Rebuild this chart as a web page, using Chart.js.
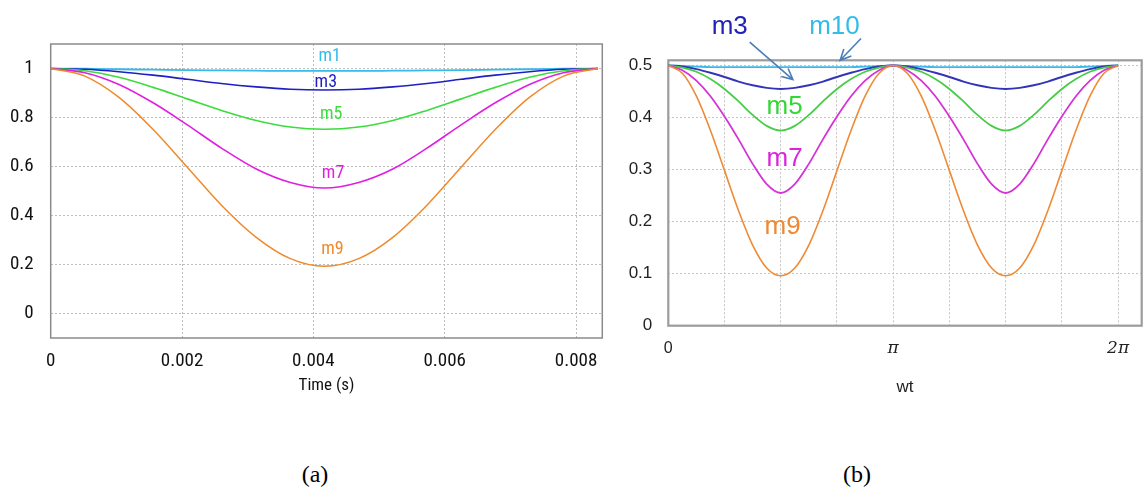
<!DOCTYPE html>
<html>
<head>
<meta charset="utf-8">
<script src="https://cdn.jsdelivr.net/npm/chart.js@4.4.1/dist/chart.umd.min.js"></script>
<style>
  html, body { margin: 0; padding: 0; background: #fff; }
  #page { position: relative; width: 1148px; height: 489px; overflow: hidden; background: #fff; }
  canvas { position: absolute; top: 0; }
  #chartA { left: 0; }
  #chartB { left: 615px; }
  .cap { position: absolute; top: 461px; font: 24px "Liberation Serif", "Times New Roman", serif; color: #000; transform: translateX(-50%); }
</style>
</head>
<body>
<div id="page">
  <canvas id="chartA" width="615" height="420"></canvas>
  <canvas id="chartB" width="533" height="420"></canvas>
  <div class="cap" style="left:315px">(a)</div>
  <div class="cap" style="left:857px">(b)</div>
</div>
<script>
// ---- data (a): normalised output vs time
var timeA = [0, 0.00052, 0.00104, 0.00156, 0.00208, 0.0026, 0.00313, 0.00365, 0.00417, 0.00469, 0.00521, 0.00573, 0.00625, 0.00677, 0.00729, 0.00781, 0.00833];
var m1A = [1, 0.999, 0.997, 0.995, 0.993, 0.992, 0.991, 0.99, 0.99, 0.99, 0.991, 0.992, 0.993, 0.995, 0.997, 0.999, 1];
var m3A = [1, 0.997, 0.987, 0.973, 0.956, 0.939, 0.925, 0.915, 0.912, 0.915, 0.925, 0.939, 0.956, 0.973, 0.987, 0.997, 1];
var m5A = [1, 0.991, 0.964, 0.923, 0.876, 0.829, 0.788, 0.761, 0.752, 0.761, 0.788, 0.829, 0.876, 0.923, 0.964, 0.991, 1];
var m7A = [1, 0.983, 0.935, 0.86, 0.77, 0.675, 0.59, 0.535, 0.512, 0.535, 0.59, 0.675, 0.77, 0.86, 0.935, 0.983, 1];
var m9A = [1, 0.969, 0.882, 0.751, 0.597, 0.442, 0.311, 0.224, 0.193, 0.224, 0.311, 0.442, 0.597, 0.751, 0.882, 0.969, 1];
var xTicksA = [0, 0.002, 0.004, 0.006, 0.008];
var xLabelsA = ['0', '0.002', '0.004', '0.006', '0.008'];
var yTicksA = [0, 0.2, 0.4, 0.6, 0.8, 1];
var yLabelsA = ['0', '0.2', '0.4', '0.6', '0.8', '1'];

// ---- data (b): output vs wt (wt given in units of pi)
var wtB = [0, 0.0625, 0.125, 0.1875, 0.25, 0.3125, 0.375, 0.4375, 0.5, 0.5625, 0.625, 0.6875, 0.75, 0.8125, 0.875, 0.9375, 1,
  1.0625, 1.125, 1.1875, 1.25, 1.3125, 1.375, 1.4375, 1.5, 1.5625, 1.625, 1.6875, 1.75, 1.8125, 1.875, 1.9375, 2];
var m10B = [0.5, 0.499, 0.498, 0.497, 0.497, 0.497, 0.497, 0.497, 0.497, 0.497, 0.497, 0.497, 0.497, 0.497, 0.498, 0.499, 0.5,
  0.499, 0.498, 0.497, 0.497, 0.497, 0.497, 0.497, 0.497, 0.497, 0.497, 0.497, 0.497, 0.497, 0.498, 0.499, 0.5];
var m3B = [0.5, 0.498, 0.493, 0.486, 0.478, 0.469, 0.462, 0.457, 0.455, 0.457, 0.462, 0.469, 0.478, 0.486, 0.493, 0.498, 0.5,
  0.498, 0.493, 0.486, 0.478, 0.469, 0.462, 0.457, 0.455, 0.457, 0.462, 0.469, 0.478, 0.486, 0.493, 0.498, 0.5];
var m5B = [0.5, 0.496, 0.488, 0.474, 0.455, 0.431, 0.405, 0.384, 0.375, 0.384, 0.405, 0.431, 0.455, 0.474, 0.488, 0.496, 0.5,
  0.496, 0.488, 0.474, 0.455, 0.431, 0.405, 0.384, 0.375, 0.384, 0.405, 0.431, 0.455, 0.474, 0.488, 0.496, 0.5];
var m7B = [0.5, 0.491, 0.471, 0.441, 0.402, 0.358, 0.311, 0.272, 0.255, 0.272, 0.311, 0.358, 0.402, 0.441, 0.471, 0.491, 0.5,
  0.491, 0.471, 0.441, 0.402, 0.358, 0.311, 0.272, 0.255, 0.272, 0.311, 0.358, 0.402, 0.441, 0.471, 0.491, 0.5];
var m9B = [0.5, 0.485, 0.441, 0.375, 0.298, 0.221, 0.155, 0.111, 0.096, 0.111, 0.155, 0.221, 0.298, 0.375, 0.441, 0.485, 0.5,
  0.485, 0.441, 0.375, 0.298, 0.221, 0.155, 0.111, 0.096, 0.111, 0.155, 0.221, 0.298, 0.375, 0.441, 0.485, 0.5];
var xTicksB = [0, 0.25, 0.5, 0.75, 1, 1.25, 1.5, 1.75, 2];
var xLabelsB = ['0', '', '', '', 'π', '', '', '', '2π'];
var yTicksB = [0, 0.1, 0.2, 0.3, 0.4, 0.5];
var yLabelsB = ['0', '0.1', '0.2', '0.3', '0.4', '0.5'];

var narrow = '"Liberation Sans Narrow", "Arial Narrow", "Roboto Condensed", "Liberation Sans", sans-serif';
var sans = '"Liberation Sans", Arial, sans-serif';

const series = (xs, ys, color, width) => ({
  data: xs.map((x, i) => ({ x: x, y: ys[i] })),
  borderColor: color,
  borderWidth: width,
  pointRadius: 0,
  fill: false,
  cubicInterpolationMode: 'monotone'
});

// box round the plot area
const framePlugin = {
  id: 'frame',
  beforeDatasetsDraw(chart, args, opts) {
    const a = chart.chartArea, ctx = chart.ctx;
    ctx.save();
    ctx.strokeStyle = opts.color;
    ctx.lineWidth = opts.width;
    ctx.strokeRect(a.left, a.top, a.right - a.left, a.bottom - a.top);
    ctx.restore();
  }
};

// m-labels and arrows, placed in data units
const tagPlugin = {
  id: 'tags',
  afterDraw(chart, args, opts) {
    const ctx = chart.ctx, xs = chart.scales.x, ys = chart.scales.y;
    ctx.save();
    ctx.font = opts.font;
    ctx.textAlign = 'center';
    ctx.textBaseline = 'middle';
    (opts.items || []).forEach(t => {
      ctx.fillStyle = t.color;
      ctx.fillText(t.text, xs.getPixelForValue(t.x), ys.getPixelForValue(t.y));
    });
    (opts.arrows || []).forEach(a => {
      const x0 = xs.getPixelForValue(a.from[0]), y0 = ys.getPixelForValue(a.from[1]);
      const x1 = xs.getPixelForValue(a.to[0]), y1 = ys.getPixelForValue(a.to[1]);
      const ang = Math.atan2(y1 - y0, x1 - x0), h = 12;
      ctx.strokeStyle = a.color;
      ctx.lineWidth = 1.6;
      ctx.beginPath();
      ctx.moveTo(x0, y0); ctx.lineTo(x1, y1);
      ctx.moveTo(x1 - h * Math.cos(ang - 0.45), y1 - h * Math.sin(ang - 0.45));
      ctx.lineTo(x1, y1);
      ctx.lineTo(x1 - h * Math.cos(ang + 0.45), y1 - h * Math.sin(ang + 0.45));
      ctx.stroke();
    });
    ctx.restore();
  }
};

const setTicks = list => scale => { scale.ticks = list.map(v => ({ value: v })); };

var chartA = new Chart(document.getElementById('chartA'), {
  type: 'line',
  data: {
    datasets: [
      series(timeA, m9A, '#ef8a2c', 1.5),
      series(timeA, m7A, '#e01fe0', 1.6),
      series(timeA, m5A, '#3ddc3d', 1.6),
      series(timeA, m3A, '#1f1fc4', 1.6),
      series(timeA, m1A, '#35bbea', 1.8)
    ]
  },
  options: {
    responsive: false,
    animation: false,
    layout: { padding: { top: 44, right: 12.7, left: 0, bottom: 0 } },
    plugins: {
      legend: { display: false },
      tooltip: { enabled: false },
      frame: { color: '#8a8a8a', width: 1.5 },
      tags: {
        font: '18px ' + narrow,
        items: [
          { text: 'm1', x: 0.00425, y: 1.047, color: '#35bbea' },
          { text: 'm3', x: 0.00419, y: 0.943, color: '#1f1fc4' },
          { text: 'm5', x: 0.00427, y: 0.814, color: '#3ddc3d' },
          { text: 'm7', x: 0.0043, y: 0.573, color: '#e01fe0' },
          { text: 'm9', x: 0.00429, y: 0.26, color: '#ef8a2c' }
        ]
      }
    },
    scales: {
      x: {
        type: 'linear', min: 0, max: 0.0084,
        afterBuildTicks: setTicks(xTicksA),
        afterFit: s => { s.height = 82; },
        ticks: { padding: 12, color: '#111', font: { family: narrow, size: 19 }, maxRotation: 0,
          callback: (v, i) => xLabelsA[i] },
        grid: { color: '#bdbdbd', lineWidth: 1, drawTicks: false },
        border: { display: false, dash: [2, 2] },
        title: { display: true, text: 'Time (s)', color: '#111', font: { family: narrow, size: 17 },
          padding: { top: 0, bottom: 24 } }
      },
      y: {
        type: 'linear', min: -0.1, max: 1.1,
        afterBuildTicks: setTicks(yTicksA),
        afterFit: s => { s.width = 50.7; },
        ticks: { padding: 17, color: '#111', font: { family: narrow, size: 19 },
          callback: (v, i) => yLabelsA[i] },
        grid: { color: '#bdbdbd', lineWidth: 1, drawTicks: false },
        border: { display: false, dash: [2, 2] }
      }
    }
  },
  plugins: [framePlugin, tagPlugin]
});

var chartB = new Chart(document.getElementById('chartB'), {
  type: 'line',
  data: {
    datasets: [
      series(wtB, m9B, '#ef8a35', 1.6),
      series(wtB, m7B, '#d633d6', 1.8),
      series(wtB, m5B, '#48cc48', 1.8),
      series(wtB, m3B, '#3434b8', 2),
      series(wtB, m10B, '#38bbea', 1.8)
    ]
  },
  options: {
    responsive: false,
    animation: false,
    layout: { padding: { top: 60.3, right: 6.3, left: 0, bottom: 0 } },
    plugins: {
      legend: { display: false },
      tooltip: { enabled: false },
      frame: { color: '#9c9c9c', width: 2.2 },
      tags: {
        font: '26px ' + sans,
        items: [
          { text: 'm3', x: 0.273, y: 0.574, color: '#2222b8' },
          { text: 'm10', x: 0.739, y: 0.574, color: '#33bbea' },
          { text: 'm5', x: 0.517, y: 0.42, color: '#33d633' },
          { text: 'm7', x: 0.517, y: 0.32, color: '#dd22dd' },
          { text: 'm9', x: 0.508, y: 0.19, color: '#ee8833' }
        ],
        arrows: [
          { from: [0.362, 0.545], to: [0.554, 0.473], color: '#4a7ebb' },
          { from: [0.857, 0.552], to: [0.764, 0.51], color: '#4a7ebb' }
        ]
      }
    },
    scales: {
      x: {
        type: 'linear', min: 0, max: 2.105,
        afterBuildTicks: setTicks(xTicksB),
        afterFit: s => { s.height = 94.3; },
        ticks: {
          padding: 13, color: '#222', maxRotation: 0, autoSkip: false,
          font: ctx => (ctx.index === 0 ? { family: sans, size: 16 } : { family: '"DejaVu Serif", "Liberation Serif", serif', size: 17, style: 'italic' }),
          callback: (v, i) => xLabelsB[i]
        },
        grid: { color: '#c4c4c4', lineWidth: 1, drawTicks: false },
        border: { display: false, dash: [2, 2] },
        title: { display: true, text: 'wt', color: '#222', font: { family: sans, size: 17 },
          padding: { top: 0, bottom: 22 } }
      },
      y: {
        type: 'linear', min: 0, max: 0.51,
        afterBuildTicks: setTicks(yTicksB),
        afterFit: s => { s.width = 53.3; },
        ticks: { padding: 16, color: '#222', font: { family: sans, size: 17 },
          callback: (v, i) => yLabelsB[i] },
        grid: { color: '#c4c4c4', lineWidth: 1, drawTicks: false },
        border: { display: false, dash: [2, 2] }
      }
    }
  },
  plugins: [framePlugin, tagPlugin]
});
</script>
</body>
</html>
